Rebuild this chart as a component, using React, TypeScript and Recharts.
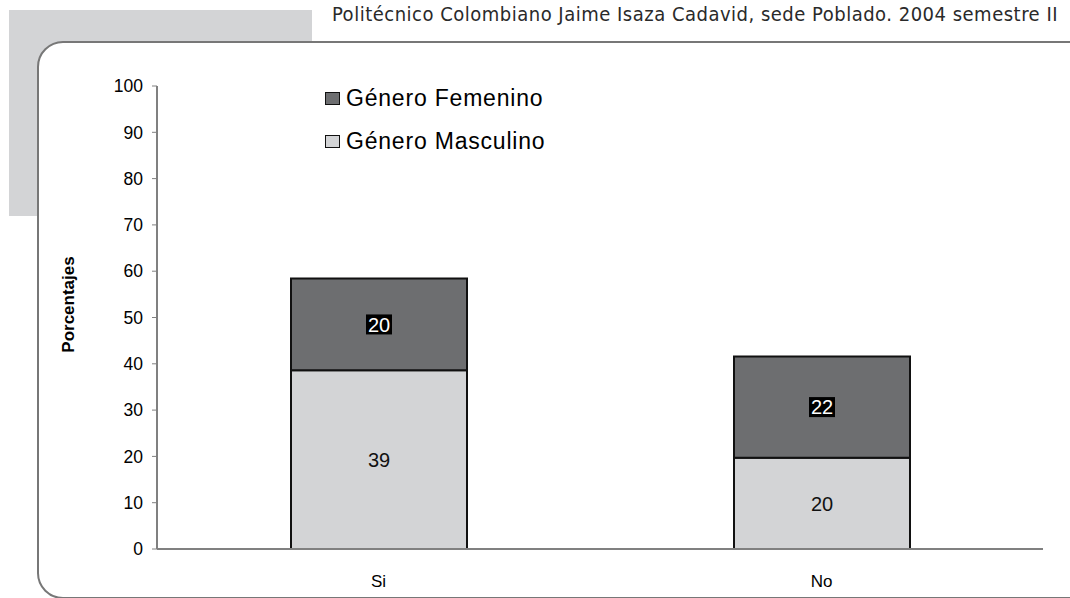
import React from 'react';
import { BarChart, Bar, XAxis, YAxis, LabelList } from 'recharts';

const categories = ['Si', 'No'];
const masculino = [38.6, 19.7];
const femenino = [19.8, 21.9];
const yTicks = [0, 10, 20, 30, 40, 50, 60, 70, 80, 90, 100];
const boundaryTicks = [0, 1, 2];

const seriesNames = { fem: 'Género Femenino', masc: 'Género Masculino' };
const title = 'Politécnico Colombiano Jaime Isaza Cadavid, sede Poblado. 2004 semestre II';

const femColor = '#6d6e70';
const mascColor = '#d3d4d6';
const axisColor = '#808080';
const font = '"Liberation Sans", Arial, sans-serif';

const data = categories.map((c, i) => ({ name: c, masc: masculino[i], fem: femenino[i] }));

const FemLabel = (props: any) => {
    const { x, y, width, height, value } = props;
    const cx = x + width / 2;
    const cy = y + height / 2;
    const txt = String(Math.round(value));
    return (
        <g>
            <rect x={cx - 13} y={cy - 10} width={26} height={20} fill="#000" />
            <text x={cx} y={cy} dy="0.36em" textAnchor="middle" fill="#fff" fontSize={20} fontFamily={font}>{txt}</text>
        </g>
    );
};

const MascLabel = (props: any) => {
    const { x, y, width, height, value } = props;
    return (
        <text x={x + width / 2} y={y + height / 2} dy="0.36em" textAnchor="middle" fill="#111" fontSize={20} fontFamily={font}>
            {Math.round(value)}
        </text>
    );
};

const LegendBox = () => {
    const items = [
        { label: seriesNames.fem, color: femColor },
        { label: seriesNames.masc, color: mascColor },
    ];
    return (
        <div style={{ position: 'absolute', left: 325, top: 77, fontFamily: font, fontSize: 23, letterSpacing: 0.8, color: '#000' }}>
            {items.map(it => (
                <div key={it.label} style={{ display: 'flex', alignItems: 'center', height: 43 }}>
                    <span style={{ display: 'inline-block', width: 13, height: 11, background: it.color, border: '1.5px solid #111', marginRight: 6 }} />
                    <span>{it.label}</span>
                </div>
            ))}
        </div>
    );
};

const YLabel = (props: any) => {
    const { viewBox } = props;
    const x = viewBox.x + 8;
    const y = viewBox.y + viewBox.height / 2 - 13;
    return (
        <text x={x} y={y} transform={`rotate(-90, ${x}, ${y})`} textAnchor="middle" dy="0.36em" fontSize={17} fontWeight="bold" fontFamily={font} fill="#000">
            Porcentajes
        </text>
    );
};

export default function App() {
    return (
        <div style={{ position: 'absolute', left: 0, top: 0, width: 1070, height: 598, overflow: 'hidden', background: '#fff' }}>
            <div style={{ position: 'absolute', left: 9, top: 10, width: 303, height: 206, background: '#d3d4d6' }} />
            <div style={{ position: 'absolute', right: 12, top: 2, fontFamily: '"DejaVu Sans Condensed", "DejaVu Sans", sans-serif', fontSize: 20, letterSpacing: 0.5, color: '#2a2a2a', whiteSpace: 'nowrap' }}>
                {title}
            </div>
            <div style={{ position: 'absolute', left: 37, top: 41, width: 1060, height: 558, border: '2px solid #777', borderRadius: 26, background: '#fff', boxSizing: 'border-box' }} />
            <div style={{ position: 'absolute', left: 0, top: 0 }}>
                <BarChart width={1070} height={598} data={data} margin={{ top: 86, right: 27, bottom: 19, left: 60 }} barSize={176}>
                    <XAxis dataKey="name" xAxisId="cat" axisLine={{ stroke: axisColor, strokeWidth: 2 }} tickLine={false} tickSize={0} tickMargin={26}
                        tick={{ fill: '#000', fontSize: 17, fontFamily: font }} />
                    <XAxis xAxisId="edge" type="number" domain={[0, 2]} ticks={boundaryTicks} axisLine={false} tick={false}
                        tickLine={{ stroke: '#222', strokeWidth: 2 }} tickSize={5} height={0} />
                    <YAxis width={97} domain={[0, 100]} ticks={yTicks} interval={0} axisLine={{ stroke: axisColor, strokeWidth: 2 }}
                        tickLine={{ stroke: axisColor }} tickSize={5} tickMargin={9}
                        tick={{ fill: '#000', fontSize: 17.5, fontFamily: font }} label={<YLabel />} />
                    <Bar dataKey="masc" xAxisId="cat" stackId="a" fill={mascColor} stroke="#111" strokeWidth={2} isAnimationActive={false}>
                        <LabelList dataKey="masc" content={<MascLabel />} />
                    </Bar>
                    <Bar dataKey="fem" xAxisId="cat" stackId="a" fill={femColor} stroke="#111" strokeWidth={2} isAnimationActive={false}>
                        <LabelList dataKey="fem" content={<FemLabel />} />
                    </Bar>
                </BarChart>
            </div>
            <LegendBox />
        </div>
    );
}
